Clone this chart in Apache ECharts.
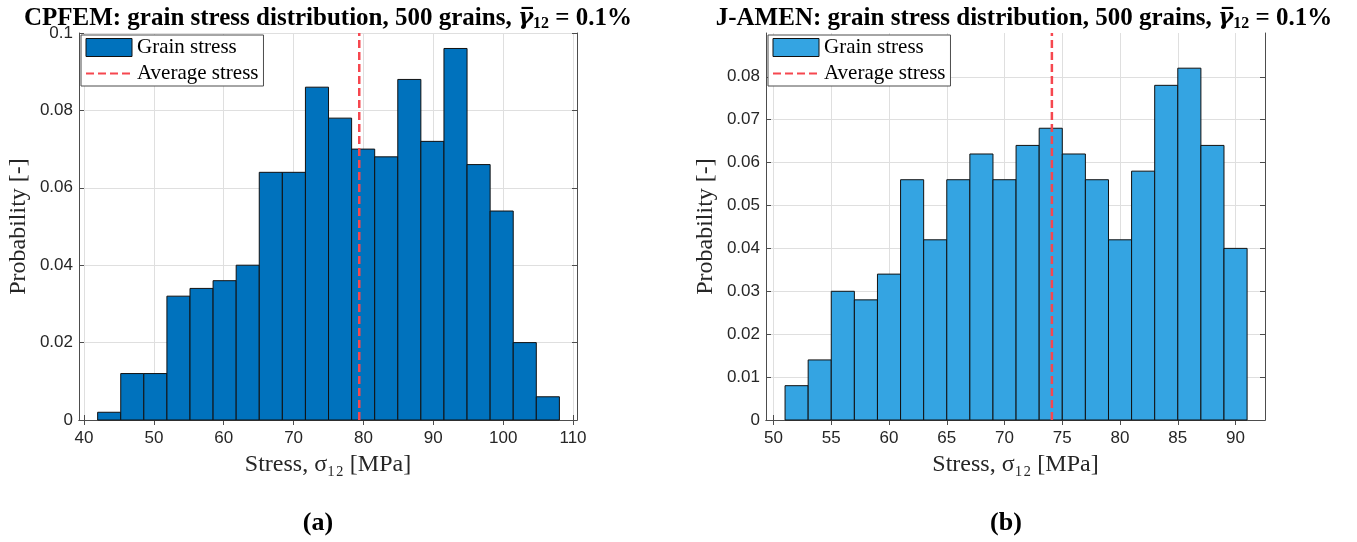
<!DOCTYPE html>
<html>
<head>
<meta charset="utf-8">
<script src="https://cdn.jsdelivr.net/npm/echarts@6/dist/echarts.min.js"></script>
<style>
  html, body { margin: 0; padding: 0; background: #fff; }
  #chart { width: 1357px; height: 542px; }
</style>
</head>
<body>
<div id="chart"></div>
<script>
// CPFEM histogram: bin edges [MPa] and probability per bin
const edgesA = [41.95, 45.255, 48.56, 51.865, 55.17, 58.475, 61.78, 65.085, 68.39, 71.695, 75.0,
                78.305, 81.61, 84.915, 88.22, 91.525, 94.83, 98.135, 101.44, 104.745, 108.05];
const probA = [0.002, 0.012, 0.012, 0.032, 0.034, 0.036, 0.040, 0.064, 0.064, 0.086,
               0.078, 0.070, 0.068, 0.088, 0.072, 0.096, 0.066, 0.054, 0.020, 0.006];
const avgA = 79.4;

// J-AMEN histogram
const edgesB = [51, 53, 55, 57, 59, 61, 63, 65, 67, 69, 71, 73, 75, 77, 79, 81, 83, 85, 87, 89, 91];
const probB = [0.008, 0.014, 0.030, 0.028, 0.034, 0.056, 0.042, 0.056, 0.062, 0.056,
               0.064, 0.068, 0.062, 0.056, 0.042, 0.058, 0.078, 0.082, 0.064, 0.040];
const avgB = 74.1;

// Tick labels
const xTicksA = [40, 50, 60, 70, 80, 90, 100, 110];
const yTicksA = [0, 0.02, 0.04, 0.06, 0.08, 0.1];
const xTicksB = [50, 55, 60, 65, 70, 75, 80, 85, 90];
const yTicksB = [0, 0.01, 0.02, 0.03, 0.04, 0.05, 0.06, 0.07, 0.08];

const titleA = 'CPFEM: grain stress distribution, 500 grains, ';
const titleB = 'J-AMEN: grain stress distribution, 500 grains, ';
const strainText = ' = 0.1%';
const xName = 'Stress, σ₁₂ [MPa]';
const yName = 'Probability [-]';

const colorA = '#0072bd';
const colorB = '#34a4e2';
const avgColor = '#f6474f';
const axisColor = '#4d4d4d';
const gridColor = '#dfdfdf';
const serif = '"Liberation Serif", "DejaVu Serif", serif';
const sans = '"Liberation Sans", Arial, sans-serif';

const toBins = (edges, probs) => probs.map((p, i) => [edges[i], edges[i + 1], p]);

function renderBin(params, api) {
  const topLeft = api.coord([api.value(0), api.value(2)]);
  const bottomRight = api.coord([api.value(1), 0]);
  return {
    type: 'rect',
    shape: {
      x: topLeft[0], y: topLeft[1],
      width: bottomRight[0] - topLeft[0],
      height: bottomRight[1] - topLeft[1]
    },
    style: { fill: api.visual('color'), stroke: '#111', lineWidth: 1 }
  };
}

const fmtNum = v => String(+v.toFixed(3));

function xAxes(gridIndex, min, max, ticks) {
  const base = {
    type: 'value', gridIndex, min, max,
    axisLine: { show: true, lineStyle: { color: axisColor, width: 1 } },
    axisTick: { show: true, inside: true, length: 5, customValues: ticks,
                lineStyle: { color: axisColor } },
    splitLine: { show: false }
  };
  return [
    Object.assign({}, base, {
      position: 'bottom',
      axisLabel: { customValues: ticks, color: '#262626', fontFamily: sans, fontSize: 17, margin: 10,
                   formatter: fmtNum },
      splitLine: { show: true, lineStyle: { color: gridColor, width: 1 } },
      name: xName, nameLocation: 'middle', nameGap: 33,
      nameTextStyle: { fontFamily: serif, fontSize: 24, color: '#262626' }
    }),
    Object.assign({}, base, { position: 'top', axisLabel: { show: false } })
  ];
}

function yAxes(gridIndex, max, ticks) {
  const base = {
    type: 'value', gridIndex, min: 0, max,
    axisLine: { show: true, lineStyle: { color: axisColor, width: 1 } },
    axisTick: { show: true, inside: true, length: 5, customValues: ticks,
                lineStyle: { color: axisColor } },
    splitLine: { show: false }
  };
  return [
    Object.assign({}, base, {
      position: 'left',
      axisLabel: { customValues: ticks, color: '#262626', fontFamily: sans, fontSize: 17, margin: 6,
                   formatter: fmtNum },
      splitLine: { show: true, lineStyle: { color: gridColor, width: 1 } },
      name: yName, nameLocation: 'middle', nameGap: 48,
      nameTextStyle: { fontFamily: serif, fontSize: 24, color: '#262626' }
    }),
    Object.assign({}, base, { position: 'right', axisLabel: { show: false } })
  ];
}

function legendFor(left, barColor, names) {
  return {
    left, top: 35, orient: 'vertical',
    backgroundColor: '#fff', borderColor: axisColor, borderWidth: 1,
    borderRadius: 0, padding: [2, 5, 2, 4], itemGap: 5,
    itemWidth: 46, itemHeight: 18,
    textStyle: { fontFamily: serif, fontSize: 21, color: '#000' },
    formatter: n => (n === names[0] ? 'Grain stress' : 'Average stress'),
    data: [
      { name: names[0], icon: 'rect', itemStyle: { color: barColor, borderColor: '#111', borderWidth: 1 } },
      { name: names[1], itemStyle: { opacity: 0 } }
    ]
  };
}

const richTitle = {
  b: { fontFamily: serif, fontWeight: 'bold', fontSize: 25, color: '#000' },
  g: { fontFamily: '"DejaVu Serif", serif', fontStyle: 'italic', fontSize: 23, color: '#000' },
  s: { fontFamily: serif, fontWeight: 'bold', fontSize: 16, color: '#000', padding: [11, 0, 0, 0] },
  n: { fontFamily: serif, fontSize: 25, color: '#000' }
};

const chart = echarts.init(document.getElementById('chart'), null, { renderer: 'canvas' });
chart.setOption({
  animation: false,
  backgroundColor: '#fff',
  title: [
    { text: '{b|' + titleA + '}{g|γ\u0305}{s|12}{n|' + strainText + '}', left: 323, top: 0,
      textAlign: 'center', textStyle: { rich: richTitle } },
    { text: '{b|' + titleB + '}{g|γ\u0305}{s|12}{n|' + strainText + '}', left: 1019, top: 0,
      textAlign: 'center', textStyle: { rich: richTitle } },
    { text: '(a)', left: 313, top: 505, textAlign: 'center',
      textStyle: { fontFamily: serif, fontWeight: 'bold', fontSize: 26, color: '#000' } },
    { text: '(b)', left: 1001, top: 505, textAlign: 'center',
      textStyle: { fontFamily: serif, fontWeight: 'bold', fontSize: 26, color: '#000' } }
  ],
  legend: [
    legendFor(81, colorA, ['grainA', 'avgA']),
    legendFor(768, colorB, ['grainB', 'avgB'])
  ],
  grid: [
    { left: 79, right: 780, top: 33, bottom: 122 },
    { left: 766, right: 92, top: 33, bottom: 122 }
  ],
  xAxis: [
    ...xAxes(0, 39.28, 110.57, xTicksA),
    ...xAxes(1, 49.35, 92.55, xTicksB)
  ],
  yAxis: [
    ...yAxes(0, 0.1, yTicksA),
    ...yAxes(1, 0.0902, yTicksB)
  ],
  series: [
    { name: 'grainA', type: 'custom', xAxisIndex: 0, yAxisIndex: 0,
      itemStyle: { color: colorA, borderColor: '#111' },
      encode: { x: [0, 1], y: 2 }, renderItem: renderBin, data: toBins(edgesA, probA), z: 2 },
    { name: 'avgA', type: 'line', xAxisIndex: 0, yAxisIndex: 0, symbol: 'none',
      lineStyle: { color: avgColor, width: 2.5, type: [8, 4] }, itemStyle: { color: avgColor },
      data: [[avgA, 0], [avgA, 0.1]], z: 3 },
    { name: 'grainB', type: 'custom', xAxisIndex: 2, yAxisIndex: 2,
      itemStyle: { color: colorB, borderColor: '#111' },
      encode: { x: [0, 1], y: 2 }, renderItem: renderBin, data: toBins(edgesB, probB), z: 2 },
    { name: 'avgB', type: 'line', xAxisIndex: 2, yAxisIndex: 2, symbol: 'none',
      lineStyle: { color: avgColor, width: 2.5, type: [8, 4] }, itemStyle: { color: avgColor },
      data: [[avgB, 0], [avgB, 0.0902]], z: 3 }
  ]
});
</script>
</body>
</html>
